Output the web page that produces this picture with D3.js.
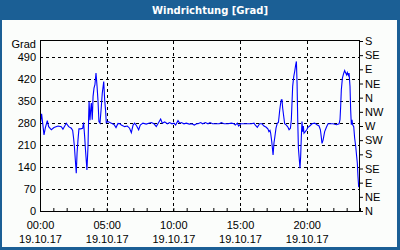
<!DOCTYPE html>
<html><head><meta charset="utf-8">
<script src="https://cdn.jsdelivr.net/npm/d3@7"></script>
<style>body{margin:0;background:#fff}svg{display:block}</style>
</head><body>
<script>
const title = "Windrichtung [Grad]";
const yUnit = "Grad";
const hours = [0.05,0.12,0.2,0.3,0.4,0.55,0.65,0.85,1.05,1.35,1.6,1.72,1.97,2.15,2.35,2.45,2.52,2.58,2.65,2.72,2.78,2.85,2.92,3.05,3.2,3.27,3.35,3.42,3.52,3.6,3.65,3.68,3.75,3.8,3.85,3.92,3.98,4.05,4.12,4.2,4.28,4.35,4.42,4.5,4.58,4.67,4.78,4.85,4.92,4.97,5.1,5.35,5.55,5.7,5.85,6.0,6.1,6.35,6.55,6.72,6.85,6.98,7.1,7.25,7.4,7.52,7.72,7.97,8.15,8.35,8.55,8.72,8.9,9.05,9.17,9.35,9.55,9.72,9.9,10.05,10.17,10.35,10.47,10.6,10.8,10.97,11.2,11.4,11.57,11.75,11.85,12.05,12.2,12.4,12.6,12.75,12.95,13.2,13.45,13.6,13.8,14.1,14.35,14.55,14.65,14.8,14.9,15.05,15.35,15.72,15.85,16.05,16.15,16.3,16.47,16.65,16.8,16.97,17.1,17.17,17.25,17.3,17.38,17.48,17.55,17.6,17.7,17.8,17.88,17.93,17.98,18.05,18.1,18.15,18.2,18.28,18.35,18.48,18.6,18.68,18.78,18.85,18.9,18.95,19.03,19.1,19.18,19.23,19.28,19.33,19.38,19.43,19.5,19.55,19.6,19.65,19.7,19.75,19.8,19.9,20.0,20.1,20.23,20.4,20.6,20.8,20.93,21.03,21.1,21.15,21.23,21.35,21.48,21.6,21.73,21.98,22.23,22.43,22.5,22.55,22.6,22.68,22.78,22.85,22.93,23.0,23.05,23.13,23.18,23.25,23.3,23.35,23.4,23.45,23.53,23.6,23.68,23.75,23.8,23.85,23.9,23.98];
const values = [284,309,279,242,264,287,268,258,265,270,268,260,279,268,263,256,231,205,162,120,184,226,261,261,263,281,236,189,130,205,300,348,288,321,343,290,364,390,401,438,396,350,284,279,321,374,411,353,319,281,284,279,275,265,278,277,273,268,270,263,249,273,279,270,258,273,279,276,279,281,277,268,281,292,279,283,277,281,277,279,273,287,279,281,277,279,276,277,273,277,277,281,277,281,277,281,277,277,277,281,277,277,279,277,273,279,270,277,277,277,277,279,273,266,277,277,270,266,260,252,256,247,221,178,217,231,263,279,281,300,321,343,353,353,327,300,277,273,266,258,263,290,343,396,427,443,465,475,406,290,200,173,136,173,236,284,252,270,247,252,258,266,270,277,279,273,270,258,234,215,225,252,266,277,277,277,274,277,290,332,385,422,438,446,438,432,440,431,438,396,321,274,290,274,268,231,205,173,152,109,77,77];
const yTicks = [0,70,140,210,280,350,420,490];
const dirTicks = [0,45,90,135,180,225,270,315,360,405,450,495,540];
const dirLabels = ["N","NE","E","SE","S","SW","W","NW","N","NE","E","SE","S"];
const xLabelHours = [0,5,10,15,20];
const xTimeLabels = ["00:00","05:00","10:00","15:00","20:00"];
const xDateLabels = ["19.10.17","19.10.17","19.10.17","19.10.17","19.10.17"];
const minorHours = d3.range(0,25,1);

const W=400,H=250, L=40, R=360, T=41, B=211;
const svg = d3.select("body").append("svg").attr("width",W).attr("height",H);
svg.append("rect").attr("width",W).attr("height",H).attr("fill","#1b5f95");
svg.append("rect").attr("x",2).attr("y",20).attr("width",W-5).attr("height",H-23).attr("fill","#fbfdfb");
svg.append("text").attr("x",210).attr("y",14).attr("text-anchor","middle")
  .attr("fill","#fff").attr("font-family","DejaVu Sans").attr("font-weight","bold").attr("font-size",10).text(title);

const x = d3.scaleLinear().domain([0,24]).range([L,R]);
const y = d3.scaleLinear().domain([0,540]).range([B,T]);
const font = "Liberation Sans";

// grid
const g = svg.append("g").attr("stroke","#000").attr("stroke-dasharray","3,3").attr("shape-rendering","crispEdges");
g.selectAll("line.h").data(yTicks.filter(v=>v>0)).enter().append("line")
  .attr("x1",L).attr("x2",R).attr("y1",d=>Math.round(y(d))+0.5).attr("y2",d=>Math.round(y(d))+0.5);
g.selectAll("line.v").data(xLabelHours.filter(v=>v>0)).enter().append("line")
  .attr("y1",T).attr("y2",B).attr("x1",d=>Math.round(x(d))+0.5).attr("x2",d=>Math.round(x(d))+0.5);

// line
svg.append("path").datum(hours.map((h,i)=>[h,values[i]]))
  .attr("fill","none").attr("stroke","#0000ff").attr("stroke-width",1.1)
  .attr("d", d3.line().x(d=>x(d[0])).y(d=>y(d[1])));

// frame
svg.append("rect").attr("x",L+0.5).attr("y",T-0.5).attr("width",R-L-1).attr("height",B-T+0.5)
  .attr("fill","none").attr("stroke","#000").attr("shape-rendering","crispEdges");

// left axis
const la = svg.append("g").attr("transform",`translate(${L},0)`)
  .call(d3.axisLeft(y).tickValues(yTicks).tickSize(0).tickPadding(4));
la.select(".domain").remove();
la.selectAll("text").attr("font-family",font).attr("font-size",11).attr("fill","#000");
svg.append("text").attr("x",36).attr("y",48).attr("text-anchor","end")
  .attr("font-family",font).attr("font-size",11).text(yUnit);

// right axis
const ra = svg.append("g").attr("transform",`translate(${R},0)`)
  .call(d3.axisRight(y).tickValues(dirTicks).tickFormat((d,i)=>dirLabels[i]).tickSize(3).tickPadding(2));
ra.select(".domain").remove();
ra.selectAll("line").attr("stroke","#000");
ra.selectAll("text").attr("font-family",font).attr("font-size",11).attr("fill","#000");

// bottom minor ticks
const ba = svg.append("g").attr("transform",`translate(0,${B})`)
  .call(d3.axisBottom(x).tickValues(minorHours).tickSize(-3).tickFormat(""));
ba.select(".domain").remove();
ba.selectAll("line").attr("stroke","#000");
// bottom labels
const bl = svg.append("g").attr("transform",`translate(0,${B})`)
  .call(d3.axisBottom(x).tickValues(xLabelHours).tickSize(0).tickFormat(""));
bl.select(".domain").remove();
bl.selectAll(".tick").each(function(d,i){
  const t = d3.select(this);
  t.append("text").attr("y",18).attr("text-anchor","middle").attr("font-family",font).attr("font-size",11).attr("fill","#000").text(xTimeLabels[i]);
  t.append("text").attr("y",32).attr("text-anchor","middle").attr("font-family",font).attr("font-size",11).attr("fill","#000").text(xDateLabels[i]);
});
</script>
</body></html>
